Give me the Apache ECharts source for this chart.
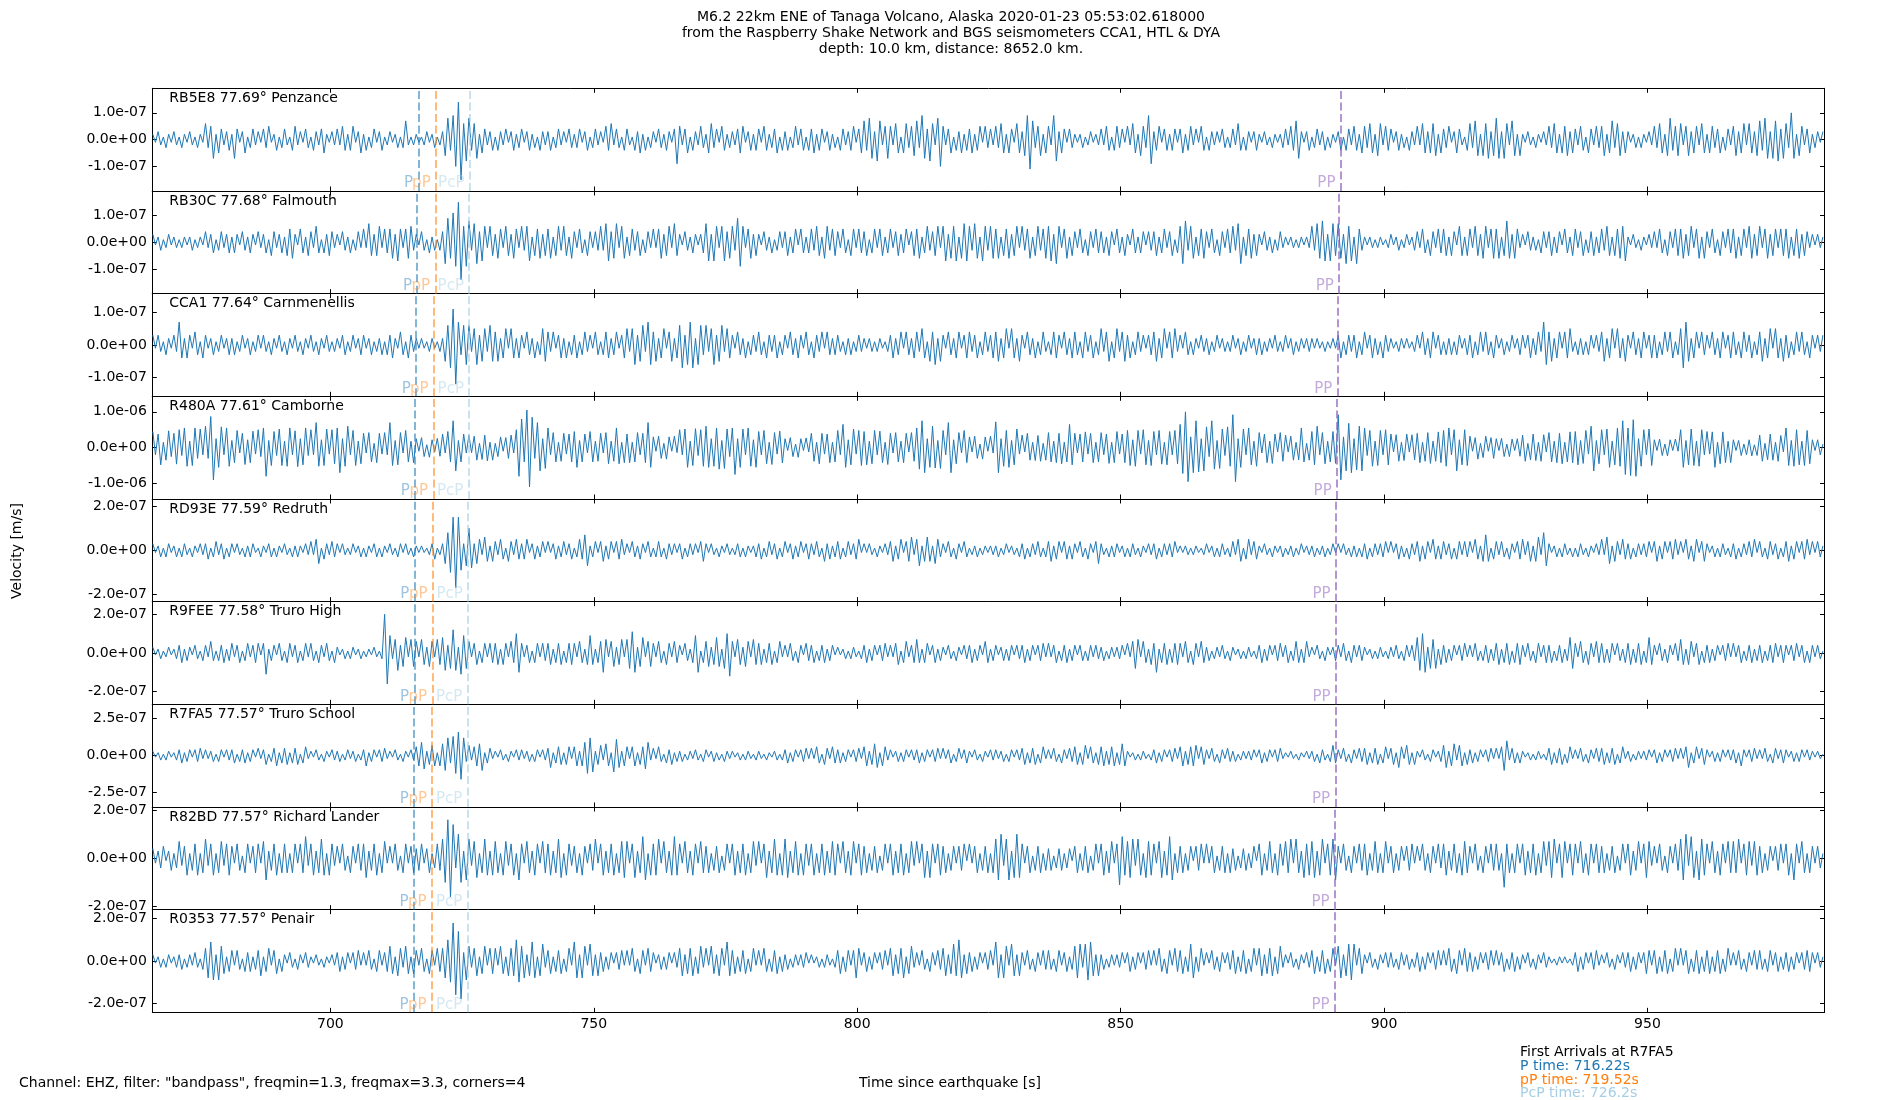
<!DOCTYPE html>
<html><head><meta charset="utf-8">
<script src="https://cdn.jsdelivr.net/npm/echarts@6/dist/echarts.min.js"></script>
<style>html,body{margin:0;padding:0;background:#fff}#c{width:1900px;height:1100px}</style>
</head><body><div id="c"></div><script>
// ---------------- data ----------------
const titleLines = [
  'M6.2 22km ENE of Tanaga Volcano, Alaska 2020-01-23 05:53:02.618000',
  'from the Raspberry Shake Network and BGS seismometers CCA1, HTL & DYA',
  'depth: 10.0 km, distance: 8652.0 km.'
];
const footerText = 'Channel: EHZ, filter: "bandpass", freqmin=1.3, freqmax=3.3, corners=4';
const xAxisTitle = 'Time since earthquake [s]';
const yAxisTitle = 'Velocity [m/s]';
const stations = ['RB5E8','RB30C','CCA1','R480A','RD93E','R9FEE','R7FA5','R82BD','R0353'];
const distances = [77.69,77.68,77.64,77.61,77.59,77.58,77.57,77.57,77.57];
const places = ['Penzance','Falmouth','Carnmenellis','Camborne','Redruth','Truro High','Truro School','Richard Lander','Penair'];
const yLimits = [1.917e-7,1.924e-7,1.571e-7,1.434e-6,2.325e-7,2.656e-7,3.47e-7,2.13e-7,2.43e-7];
const yTickValues = [
  [-1e-7,0,1e-7],[-1e-7,0,1e-7],[-1e-7,0,1e-7],[-1e-6,0,1e-6],[-2e-7,0,2e-7],
  [-2e-7,0,2e-7],[-2.5e-7,0,2.5e-7],[-2e-7,0,2e-7],[-2e-7,0,2e-7]
];
const xMin = 666.2, xMax = 983.6;
const xTickValues = [700,750,800,850,900,950];
const phaseNames = ['P','pP','PcP','PP'];
const pArrivals   = [716.68,716.48,716.28,716.07,715.97,715.95,715.87,715.85,715.85];
const pPArrivals  = [720.04,719.94,719.63,719.53,719.43,719.36,719.33,719.25,719.25];
const pcpArrivals = [726.45,726.35,726.35,726.25,726.14,726.06,726.04,726.04,726.04];
const ppArrivals  = [891.77,891.46,891.16,891.06,890.85,890.85,890.75,890.65,890.65];
const firstArrivalStation = 'R7FA5';
const firstArrivalNames = ['P','pP','PcP'];
const firstArrivalTimes = [716.22,719.52,726.2];
// samples: start time, step (s); amplitudes in units of 1e-8 m/s
const sampleStart = 666.3, sampleStep = 0.5, sampleUnit = 1e-8;

const wRB5E8 = [
2,-1,3,-2,1,-3,2,-1,3,-2, 1,-3,2,-1,3,-2,1,-3,2,-1,
6,-3,5,-7,2,-5,4,-2,3,-4, 2,-7,4,-1,3,-5,1,-3,4,-2,
3,-1,4,-3,5,-1,2,-4,1,-3, 4,-2,1,-4,5,-2,3,-1,4,-3,
1,-4,3,-2,4,-5,2,-1,3,-2, 4,-2,5,-4,2,-4,5,-1,3,-5,
2,-4,1,-3,4,-1,3,-4,1,-2, 3,-1,2,-3,1,-3,7,-2,1,-2,
2,-1,1,-2,3,-1,2,-3,1,-2, 3,-6,8,-4,9,-10,14,-15,6,-8,
8,-4,6,-7,2,-5,4,-2,3,-4, 1,-4,3,-2,4,-1,3,-4,2,-3,
4,-1,3,-4,2,-3,1,-4,3,-2, 3,-4,1,-3,4,-2,3,-1,4,-3,
2,-3,4,-1,3,-4,1,-3,4,-2, 3,-1,5,-4,6,-2,4,-3,1,-4,
4,-2,1,-4,3,-5,2,-4,1,-3, 3,-1,4,-3,2,-4,3,-1,4,-9,
5,-2,4,-5,1,-4,3,-2,5,-3, 2,-5,6,-3,4,-1,5,-4,2,-3,
3,-2,4,-5,5,-1,3,-4,2,-4, 4,-1,5,-4,2,-3,4,-5,1,-4,
3,-4,1,-3,5,-2,4,-4,1,-4, 4,-5,2,-4,4,-1,3,-4,2,-3,
1,-4,4,-2,3,-4,5,-1,4,-5, 7,-4,8,-7,3,-8,7,-2,5,-7,
5,-2,6,-5,1,-5,6,-3,5,-6, 7,-3,9,-7,4,-8,6,-2,8,-10,
5,-2,4,-5,1,-4,3,-5,2,-4, 4,-5,2,-4,5,-1,5,-3,4,-2,
5,-3,6,-5,2,-5,4,-1,6,-5, 3,-6,9,-11,7,-3,5,-6,2,-5,
5,-2,9,-8,3,-5,4,-1,4,-3, 2,-1,2,-3,1,-2,3,-1,2,-2,
4,-2,5,-4,1,-4,5,-3,4,-1, 5,-2,6,-5,2,-6,5,-3,9,-9,
3,-4,5,-1,4,-4,2,-4,4,-1, 4,-5,2,-4,5,-2,4,-1,5,-4,
1,-4,3,-2,3,-1,4,-3,1,-3, 4,-2,6,-4,1,-4,3,-1,3,-4,
2,-1,3,-2,1,-3,2,-1,2,-3, 4,-2,5,-4,7,-7,3,-1,3,-4,
1,-3,4,-2,3,-4,1,-3,2,-1, 3,-4,1,-4,4,-2,5,-4,2,-5,
5,-3,6,-5,2,-6,6,-2,5,-4, 4,-1,3,-4,2,-3,1,-4,3,-2,
5,-2,6,-5,3,-5,6,-6,2,-5, 4,-3,5,-1,3,-5,4,-2,1,-4,
6,-3,7,-6,2,-6,6,-7,3,-6, 8,-7,3,-7,6,-2,7,-6,2,-6,
2,-1,3,-2,1,-3,2,-1,3,-2, 5,-3,6,-5,2,-5,5,-6,3,-5,
4,-2,5,-4,1,-5,4,-2,5,-3, 5,-6,2,-5,7,-3,6,-6,3,-5,
3,-1,2,-3,1,-3,2,-1,3,-2, 5,-3,6,-5,2,-6,8,-4,5,-6,
6,-2,5,-6,3,-5,5,-2,6,-5, 2,-5,5,-3,4,-5,1,-4,4,-2,
5,-6,3,-5,6,-2,6,-5,3,-6, 7,-4,8,-7,3,-7,7,-8,4,-7,
6,-3,10,-7,2,-6,5,-2,4,-5, 2,-3,3,-1,3
];
const wRB30C = [
3,-1,2,-3,1,-2,3,-1,2,-2, 1,-2,2,-1,2,-3,1,-2,2,-1,
4,-2,3,-4,1,-3,4,-2,3,-4, 2,-4,3,-1,4,-3,2,-4,3,-1,
4,-2,3,-4,1,-5,4,-2,3,-4, 2,-5,5,-6,3,-1,5,-4,2,-5,
4,-2,6,-4,1,-4,3,-5,4,-2, 3,-1,4,-3,2,-4,1,-3,4,-2,
5,-2,7,-5,3,-5,6,-2,5,-4, 5,-6,3,-7,5,-2,5,-6,6,-3,
3,-1,4,-3,1,-4,2,-3,1,-3, 4,-8,9,-6,11,-9,15,-14,6,-9,
8,-3,7,-8,4,-7,6,-2,6,-5, 3,-6,5,-2,6,-5,3,-6,5,-2,
6,-3,6,-7,2,-5,5,-6,3,-5, 5,-6,2,-5,6,-3,6,-5,2,-6,
4,-2,5,-4,1,-5,4,-2,4,-3, 6,-3,7,-7,4,-6,7,-2,6,-6,
2,-5,5,-3,4,-5,1,-4,4,-2, 5,-2,5,-6,3,-5,6,-2,7,-5,
3,-1,4,-3,2,-4,3,-1,3,-4, 7,-7,3,-7,6,-2,6,-7,4,-6,
6,-3,9,-9,6,-2,5,-6,3,-5, 3,-1,4,-3,2,-4,1,-3,4,-2,
4,-5,2,-4,5,-1,5,-4,2,-4, 5,-3,6,-5,2,-6,6,-3,5,-5,
4,-2,5,-4,1,-5,5,-2,5,-4, 4,-5,1,-4,5,-2,5,-5,2,-4,
5,-2,4,-5,3,-4,5,-1,4,-5, 5,-6,2,-4,6,-3,4,-5,6,-2,
6,-7,3,-6,6,-7,2,-6,7,-7, 6,-3,7,-6,2,-7,6,-3,6,-6,
5,-6,2,-5,5,-6,3,-5,6,-2, 6,-3,5,-6,2,-5,6,-3,5,-6,
6,-7,3,-8,6,-2,5,-6,2,-5, 4,-2,5,-4,1,-5,4,-2,5,-4,
4,-4,2,-5,4,-1,5,-4,2,-5, 3,-1,5,-4,2,-4,4,-1,4,-3,
4,-5,2,-4,5,-2,4,-5,1,-4, 6,-8,8,-3,6,-6,2,-5,5,-6,
4,-2,5,-4,1,-5,4,-2,5,-4, 6,-3,7,-8,2,-5,5,-6,3,-5,
3,-1,4,-3,2,-4,1,-3,4,-2, 2,-1,2,-2,1,-2,2,-1,2,-2,
6,-3,7,-6,8,-7,3,-7,7,-5, 7,-6,3,-8,6,-7,2,-8,5,-3,
2,-1,2,-2,1,-2,2,-1,1,-2, 3,-1,2,-3,1,-2,3,-1,2,-3,
4,-2,5,-4,1,-5,4,-2,5,-4, 5,-5,2,-5,4,-1,6,-5,2,-5,
5,-2,6,-5,3,-6,6,-2,5,-6, 5,-6,2,-5,8,-6,3,-6,5,-2,
3,-1,4,-3,2,-3,1,-4,4,-2, 4,-5,2,-4,4,-1,5,-4,2,-5,
5,-2,4,-5,1,-4,4,-5,2,-4, 5,-3,6,-5,2,-5,5,-6,6,-7,
2,-1,3,-2,1,-3,2,-1,3,-2, 4,-2,5,-4,1,-5,4,-2,5,-5,
5,-6,3,-5,6,-2,5,-6,2,-6, 4,-2,5,-4,1,-5,4,-2,5,-4,
5,-6,2,-5,5,-2,6,-6,3,-5, 6,-2,5,-6,3,-5,5,-2,5,-5,
5,-6,2,-5,5,-6,3,-5,4,-2, 3,-1,3,-2,2
];
const wCCA1 = [
3,-1,3,-2,1,-3,2,-1,3,-2, 7,-4,2,-4,3,-1,4,-3,1,-4,
3,-1,2,-3,1,-2,3,-1,2,-3, 2,-3,1,-2,3,-1,2,-3,1,-2,
3,-1,3,-2,1,-3,2,-1,3,-2, 1,-3,2,-1,3,-2,1,-3,2,-1,
3,-2,1,-3,2,-1,3,-2,1,-2, 2,-1,3,-3,1,-2,3,-1,2,-3,
3,-1,2,-3,1,-2,2,-3,1,-3, 3,-4,2,-1,4,-3,1,-4,3,-2,
2,-1,2,-1,1,-2,2,-1,1,-2, 2,-5,6,-7,11,-12,7,-3,6,-6,
6,-2,5,-6,3,-5,5,-2,6,-5, 4,-5,2,-4,5,-1,5,-4,2,-4,
3,-1,4,-3,2,-4,1,-3,5,-5, 4,-2,4,-1,3,-4,2,-4,1,-3,
3,-4,1,-3,4,-2,3,-1,4,-3, 1,-3,4,-4,2,-3,4,-1,3,-4,
5,-2,5,-6,3,-5,6,-2,7,-6, 4,-5,2,-4,5,-1,4,-5,2,-4,
6,-7,3,-6,7,-7,2,-6,6,-3, 6,-2,5,-6,3,-5,6,-2,5,-4,
3,-1,4,-3,2,-4,1,-3,3,-2, 4,-3,1,-4,3,-2,3,-4,1,-3,
3,-1,4,-3,2,-4,3,-1,4,-3, 1,-4,3,-2,4,-1,4,-3,2,-3,
3,-2,1,-3,2,-3,1,-2,3,-2, 2,-1,2,-2,1,-2,2,-1,1,-2,
3,-4,2,-3,4,-1,4,-3,2,-4, 4,-2,5,-4,1,-5,4,-6,2,-5,
3,-1,4,-3,2,-4,4,-1,3,-4, 4,-2,3,-4,1,-3,4,-2,3,-4,
4,-5,2,-4,5,-1,5,-4,2,-5, 3,-1,4,-3,2,-4,1,-3,4,-2,
1,-3,4,-4,3,-1,4,-3,2,-4, 4,-3,1,-4,4,-2,3,-4,1,-3,
5,-2,4,-5,1,-4,5,-2,4,-5, 3,-4,1,-3,4,-2,3,-1,3,-3,
4,-5,2,-4,5,-1,4,-4,5,-2, 3,-1,4,-3,1,-3,2,-1,3,-2,
2,-3,1,-2,3,-1,2,-2,1,-2, 3,-1,2,-3,1,-2,3,-1,2,-3,
2,-3,1,-2,2,-1,3,-2,1,-2, 3,-1,2,-3,1,-2,2,-1,2,-2,
2,-1,2,-1,1,-2,1,-1,2,-1, 3,-4,1,-3,3,-2,3,-4,1,-3,
4,-1,3,-4,2,-3,1,-4,3,-2, 2,-1,1,-2,2,-1,2,-1,1,-2,
3,-1,4,-3,2,-4,4,-1,3,-3, 1,-3,2,-3,1,-3,3,-1,2,-3,
3,-4,1,-3,4,-2,4,-3,1,-4, 3,-1,2,-3,1,-2,3,-1,2,-3,
3,-1,3,-4,2,-3,4,-2,7,-6, 4,-5,2,-4,4,-1,4,-4,5,-2,
1,-3,2,-3,1,-3,3,-1,3,-2, 4,-5,2,-4,5,-1,5,-4,2,-5,
3,-1,4,-3,2,-4,4,-1,3,-4, 3,-4,1,-3,4,-2,4,-4,1,-3,
5,-7,7,-5,2,-4,4,-1,4,-3, 3,-1,4,-3,2,-4,4,-1,3,-4,
4,-3,1,-4,4,-2,3,-4,1,-3, 4,-5,2,-4,5,-1,5,-4,2,-5,
3,-4,1,-3,4,-2,4,-3,1,-4, 3,-1,3,-2,3
];
const wR480A = [
45,-20,38,-48,15,-35,47,-25,40,-46, 50,-22,55,-52,18,-50,55,-30,52,-20,
60,-30,87,-90,25,-55,58,-20,55,-52, 20,-42,48,-15,40,-47,22,-42,46,-18,
50,-25,55,-80,20,-50,45,-22,52,-50, 18,-52,55,-20,47,-53,25,-48,55,-22,
50,-20,70,-52,22,-50,52,-18,50,-45, 55,-70,25,-52,60,-20,48,-50,18,-45,
40,-15,42,-40,12,-42,40,-18,42,-20, 70,-50,20,-48,42,-15,48,-40,18,-42,
25,-10,28,-25,8,-27,22,-12,26,-24, 38,-15,45,-40,75,-65,20,-40,38,-15,
35,-14,32,-35,12,-33,35,-37,15,-35, 12,-25,30,-10,28,-30,35,-15,50,-80,
80,-40,105,-110,85,-30,70,-65,25,-58, 55,-20,42,-40,15,-38,40,-18,38,-40,
45,-55,20,-40,38,-15,45,-40,18,-38, 40,-15,42,-45,18,-38,55,-45,15,-42,
38,-42,15,-40,42,-20,40,-42,70,-55, 30,-10,32,-30,12,-32,30,-10,32,-14,
50,-20,52,-55,18,-50,53,-22,50,-52, 60,-55,25,-52,55,-60,20,-58,52,-25,
55,-75,25,-55,52,-20,55,-52,22,-55, 45,-20,48,-45,15,-47,42,-18,46,-43,
25,-8,28,-25,10,-27,25,-8,27,-12, 40,-38,15,-45,40,-18,38,-42,15,-40,
48,-20,65,-55,22,-48,52,-18,48,-50, 45,-48,18,-45,48,-20,46,-42,15,-47,
40,-15,42,-40,18,-42,40,-12,42,-38, 55,-60,75,-70,25,-55,60,-57,20,-58,
48,-20,70,-70,22,-45,42,-15,48,-42, 30,-12,32,-30,10,-32,30,-10,32,-15,
72,-70,25,-52,48,-55,20,-48,52,-18, 35,-12,40,-35,15,-36,34,-38,12,-35,
42,-40,18,-42,40,-45,15,-40,65,-48, 40,-15,38,-40,44,-18,40,-42,15,-40,
42,-20,38,-44,15,-42,45,-18,38,-42, 48,-50,22,-52,48,-18,50,-48,20,-50,
45,-20,48,-46,15,-48,45,-20,48,-45, 65,-72,100,-95,30,-70,75,-68,25,-65,
58,-25,75,-60,20,-58,52,-22,58,-52, 92,-95,25,-55,52,-20,55,-48,18,-52,
42,-15,38,-42,18,-44,38,-12,42,-38, 35,-12,32,-35,15,-34,55,-40,12,-35,
45,-48,60,-20,42,-45,18,-40,45,-44, 92,-90,30,-65,68,-70,25,-62,60,-65,
55,-22,48,-52,18,-50,48,-20,50,-48, 38,-12,36,-38,15,-36,38,-12,36,-34,
40,-42,15,-38,42,-44,18,-38,44,-42, 48,-52,55,-20,50,-65,22,-48,50,-50,
32,-10,28,-32,12,-28,32,-10,28,-30, 25,-8,26,-25,10,-25,24,-8,25,-24,
35,-38,12,-34,38,-36,15,-38,36,-12, 42,-40,18,-42,40,-45,15,-40,44,-42,
45,-48,20,-44,48,-18,60,-65,20,-45, 50,-20,52,-55,18,-48,55,-52,75,-75,
55,-78,78,-80,25,-52,50,-20,52,-50, 22,-8,24,-22,10,-23,22,-8,24,-10,
50,-55,20,-48,52,-50,18,-52,50,-20, 45,-18,44,-55,15,-45,44,-42,18,-42,
22,-8,20,-22,10,-20,22,-23,8,-22, 35,-38,12,-34,38,-35,15,-38,34,-12,
55,-50,20,-52,50,-48,18,-50,48,-45, 22,-8,22,-20,10
];
const wRD93E = [
3,-1,2,-3,1,-3,3,-1,2,-3, 1,-3,3,-2,1,-3,2,-1,3,-2,
3,-4,1,-3,4,-2,3,-4,1,-3, 3,-1,3,-2,1,-3,2,-3,3,-1,
1,-3,2,-1,3,-3,1,-3,2,-1, 3,-2,1,-3,2,-3,2,-1,3,-2,
4,-2,5,-6,1,-4,3,-2,4,-3, 3,-1,3,-2,1,-2,3,-1,2,-3,
1,-3,2,-1,3,-3,1,-3,2,-1, 3,-2,1,-3,3,-1,3,-2,1,-3,
2,-1,2,-1,1,-2,3,-4,1,-2, 3,-6,8,-10,15,-17,15,-9,3,-7,
10,-8,3,-6,5,-2,6,-5,2,-5, 4,-2,5,-4,1,-5,4,-2,5,-4,
3,-4,5,-1,3,-4,2,-3,4,-1, 4,-1,3,-4,2,-3,4,-2,3,-4,
1,-3,5,-4,7,-7,2,-3,4,-1, 4,-5,2,-4,4,-1,4,-4,5,-2,
3,-1,4,-3,2,-4,3,-1,4,-3, 1,-3,4,-3,1,-4,3,-2,3,-1,
3,-4,1,-3,3,-2,3,-1,4,-5, 3,-1,3,-2,1,-3,2,-1,3,-2,
1,-2,3,-3,1,-3,2,-1,2,-3, 3,-4,1,-3,4,-2,3,-4,1,-3,
4,-1,3,-4,2,-3,4,-1,3,-4, 3,-2,4,-3,1,-5,3,-4,2,-3,
4,-4,1,-3,4,-2,3,-4,5,-1, 3,-1,3,-2,1,-3,2,-1,3,-2,
4,-5,2,-4,5,-1,4,-5,6,-2, 5,-7,2,-5,6,-5,2,-6,5,-3,
3,-1,4,-3,1,-4,3,-1,4,-3, 1,-2,2,-3,1,-2,2,-1,2,-2,
2,-3,1,-2,3,-1,2,-2,1,-3, 3,-4,1,-3,3,-2,4,-3,1,-3,
4,-5,2,-4,4,-1,4,-4,2,-4, 3,-1,4,-3,1,-4,3,-1,4,-6,
3,-2,1,-3,2,-3,3,-1,2,-3, 1,-3,3,-2,1,-3,2,-1,3,-2,
3,-4,1,-3,3,-2,3,-3,4,-1, 2,-1,2,-2,1,-2,2,-1,1,-2,
3,-1,2,-3,1,-3,3,-2,1,-3, 4,-2,5,-5,1,-4,5,-2,4,-4,
2,-1,3,-2,1,-3,2,-1,2,-3, 1,-2,2,-3,1,-2,3,-1,2,-2,
2,-3,1,-2,2,-3,1,-2,3,-1, 3,-1,3,-2,1,-3,2,-3,1,-3,
3,-4,1,-3,3,-2,3,-3,4,-1, 4,-1,3,-4,2,-3,1,-4,3,-2,
4,-5,2,-4,4,-1,5,-4,2,-4, 4,-2,3,-4,1,-4,4,-2,4,-3,
4,-1,5,-4,2,-5,7,-5,1,-4, 4,-2,4,-3,1,-4,3,-1,4,-4,
5,-2,4,-5,2,-5,6,-2,8,-7, 3,-1,2,-3,1,-3,3,-2,1,-3,
1,-3,3,-2,1,-3,2,-1,3,-2, 5,-2,6,-6,2,-5,4,-2,5,-4,
3,-4,1,-3,3,-2,3,-3,4,-1, 4,-5,2,-4,4,-1,4,-4,5,-2,
4,-1,5,-4,2,-5,5,-1,4,-5, 3,-1,2,-3,1,-3,3,-2,1,-3,
3,-4,1,-3,3,-2,4,-3,5,-1, 4,-3,1,-4,4,-2,3,-4,1,-3,
4,-5,2,-4,4,-1,4,-4,5,-2, 4,-1,4,-3,2
];
const wR9FEE = [
3,-1,2,-3,1,-2,3,-1,2,-3, 4,-5,2,-4,3,-1,4,-3,1,-4,
4,-2,6,-4,1,-4,4,-5,2,-4, 5,-2,4,-5,1,-4,5,-2,4,-5,
5,-1,5,-11,2,-4,4,-1,5,-4, 1,-5,5,-2,4,-5,1,-4,5,-2,
5,-4,1,-5,4,-2,5,-4,1,-5, 3,-1,2,-3,1,-3,3,-1,2,-3,
1,-2,2,-1,3,-2,1,-3,20,-16, 9,-3,7,-9,4,-7,8,-2,7,-7,
6,-2,7,-6,3,-7,6,-2,7,-6, 8,-9,4,-8,12,-9,3,-11,9,-8,
6,-2,5,-6,1,-5,5,-2,5,-5, 5,-6,2,-6,5,-2,6,-5,10,-10,
5,-2,4,-5,1,-5,5,-2,5,-4, 5,-6,2,-5,5,-6,1,-5,5,-6,
5,-2,6,-5,2,-6,9,-6,2,-5, 6,-10,7,-2,6,-7,3,-6,7,-2,
7,-8,11,-10,3,-7,8,-2,6,-7, 5,-2,6,-5,1,-6,5,-2,6,-5,
4,-1,5,-4,2,-5,9,-10,1,-5, 6,-7,3,-6,8,-7,2,-8,10,-12,
6,-2,7,-6,3,-7,6,-2,7,-6, 5,-6,2,-5,5,-6,1,-5,6,-2,
4,-2,5,-4,1,-5,4,-1,5,-4, 4,-5,1,-4,4,-5,2,-4,4,-1,
3,-1,2,-3,1,-3,3,-2,1,-3, 4,-5,2,-4,4,-1,4,-4,5,-2,
4,-2,5,-6,1,-5,6,-2,4,-5, 7,-5,2,-5,5,-1,4,-5,2,-4,
3,-1,4,-3,1,-4,3,-1,4,-3, 4,-5,2,-4,4,-1,6,-5,2,-4,
4,-1,3,-4,2,-4,4,-1,4,-3, 4,-5,2,-4,4,-1,4,-4,5,-2,
5,-2,4,-5,1,-4,4,-5,2,-4, 4,-1,4,-4,1,-4,4,-2,4,-3,
3,-4,1,-3,3,-2,3,-3,4,-1, 5,-2,6,-8,7,-2,6,-5,2,-6,
5,-10,2,-5,5,-6,2,-5,5,-6, 5,-2,6,-5,1,-6,5,-2,6,-5,
3,-4,1,-3,3,-2,4,-3,1,-4, 3,-1,2,-3,1,-3,3,-2,1,-3,
4,-5,2,-4,4,-1,4,-4,5,-2, 4,-5,1,-4,6,-5,2,-5,6,-2,
3,-1,4,-3,1,-4,3,-1,3,-4, 4,-2,5,-4,1,-5,4,-2,4,-4,
3,-1,2,-3,1,-3,3,-2,1,-3, 3,-2,4,-3,1,-4,4,-2,4,-4,
8,-9,10,-10,3,-8,7,-8,2,-6, 4,-5,2,-4,4,-1,4,-4,5,-2,
4,-2,5,-4,1,-4,4,-5,2,-4, 5,-6,2,-5,5,-6,1,-5,5,-6,
4,-2,5,-4,1,-5,5,-2,4,-5, 4,-5,1,-4,4,-5,2,-4,8,-8,
5,-2,6,-5,1,-6,5,-2,6,-5, 5,-5,2,-5,5,-1,5,-4,2,-5,
5,-6,2,-5,5,-6,1,-5,8,-6, 4,-1,5,-4,2,-5,4,-1,5,-4,
7,-6,2,-6,6,-2,5,-6,1,-5, 4,-5,2,-4,4,-1,4,-4,5,-2,
5,-2,4,-5,1,-4,4,-5,2,-4, 4,-5,1,-4,4,-5,5,-2,4,-5,
4,-1,4,-4,5,-2,4,-5,1,-5, 4,-2,4,-3,1
];
const wR7FA5 = [
3,-1,2,-3,1,-3,3,-1,2,-3, 4,-5,2,-4,4,-1,4,-4,5,-2,
4,-2,3,-4,1,-4,4,-1,4,-3, 4,-5,1,-4,4,-5,2,-4,4,-1,
5,-2,4,-6,1,-4,5,-7,2,-5, 5,-6,2,-5,5,-6,1,-5,6,-2,
3,-1,4,-3,1,-4,3,-1,4,-3, 3,-4,1,-3,4,-2,3,-4,1,-3,
4,-7,2,-4,4,-1,4,-4,5,-2, 3,-1,4,-3,1,-4,3,-1,4,-3,
6,-7,9,-9,3,-6,7,-7,2,-7, 8,-10,12,-5,13,-12,16,-16,12,-4,
7,-3,6,-7,8,-10,2,-5,5,-2, 3,-1,4,-3,1,-4,3,-1,4,-3,
4,-2,3,-4,1,-4,4,-1,4,-3, 5,-8,2,-5,6,-6,2,-6,6,-2,
6,-7,3,-7,9,-12,12,-11,3,-6, 7,-3,8,-7,2,-11,11,-8,3,-7,
6,-2,6,-7,2,-6,6,-9,9,-3, 5,-2,6,-4,1,-5,4,-6,2,-4,
3,-4,1,-3,3,-2,4,-3,1,-4, 4,-1,3,-4,2,-3,1,-4,3,-2,
3,-1,2,-3,1,-3,3,-2,1,-3, 3,-2,1,-3,2,-1,3,-3,1,-3,
4,-5,2,-4,4,-1,4,-4,5,-2, 5,-2,6,-5,1,-6,5,-2,6,-5,
4,-5,2,-4,4,-1,4,-4,5,-2, 6,-7,3,-6,8,-8,2,-7,6,-3,
4,-1,3,-4,2,-4,4,-1,4,-3, 4,-5,2,-4,4,-1,4,-4,5,-2,
5,-2,4,-5,1,-4,5,-2,4,-5, 3,-1,4,-3,1,-4,3,-1,4,-3,
4,-2,3,-4,1,-4,4,-1,4,-3, 5,-6,2,-5,5,-6,1,-5,6,-2,
4,-2,5,-4,1,-5,4,-2,5,-4, 6,-6,2,-6,7,-2,6,-5,2,-6,
6,-7,3,-6,6,-7,2,-6,8,-7, 3,-1,2,-3,1,-3,3,-2,1,-3,
4,-5,2,-4,4,-1,4,-4,5,-2, 6,-7,3,-6,6,-7,7,-2,6,-6,
4,-2,5,-4,1,-5,4,-2,5,-4, 3,-4,1,-3,3,-2,3,-3,4,-1,
4,-5,2,-4,4,-1,4,-4,5,-2, 2,-1,3,-2,1,-3,2,-1,3,-2,
3,-4,1,-5,4,-3,1,-4,7,-5, 4,-2,5,-4,1,-5,4,-2,5,-4,
5,-6,2,-5,5,-6,1,-5,6,-2, 5,-6,2,-8,6,-2,7,-6,2,-6,
3,-1,4,-3,1,-4,4,-1,3,-4, 7,-8,3,-7,8,-3,7,-7,2,-6,
4,-5,2,-4,4,-1,4,-4,5,-2, 5,-2,6,-10,10,-3,5,-5,2,-5,
3,-1,2,-3,1,-3,3,-2,1,-3, 5,-6,2,-5,5,-6,1,-5,6,-2,
4,-2,5,-4,1,-5,4,-2,5,-4, 5,-6,2,-5,5,-6,1,-5,6,-2,
3,-4,1,-3,3,-2,3,-3,4,-1, 4,-5,2,-4,4,-1,4,-4,5,-2,
5,-2,6,-8,2,-5,6,-2,5,-6, 4,-1,3,-4,2,-4,4,-1,4,-3,
4,-5,2,-7,4,-1,4,-4,5,-2, 4,-2,5,-4,1,-5,5,-2,4,-5,
4,-1,3,-4,2,-4,4,-1,4,-3, 3,-1,3,-2,1
];
const wR82BD = [
4,-2,3,-4,5,-1,3,-5,2,-4, 7,-3,5,-7,2,-5,6,-7,2,-6,
8,-3,6,-7,2,-6,7,-3,6,-7, 5,-2,6,-5,1,-6,6,-2,5,-6,
6,-2,7,-9,3,-5,6,-7,2,-6, 6,-6,2,-6,6,-2,6,-6,9,-3,
6,-7,3,-6,8,-7,2,-7,6,-3, 5,-2,6,-5,1,-6,5,-2,6,-5,
6,-8,3,-5,6,-7,2,-6,7,-2, 5,-2,6,-5,1,-6,6,-2,5,-6,
4,-5,6,-2,4,-6,2,-4,6,-5, 8,-10,16,-16,14,-4,10,-10,3,-9,
8,-3,7,-8,2,-6,8,-7,3,-7, 7,-6,2,-7,7,-3,6,-7,2,-9,
6,-2,7,-6,3,-7,6,-2,7,-6, 6,-7,3,-6,8,-8,2,-7,6,-3,
5,-6,2,-7,5,-2,6,-5,8,-2, 6,-7,3,-6,6,-7,2,-6,7,-8,
7,-2,6,-8,3,-6,9,-9,2,-7, 6,-7,8,-2,7,-6,3,-7,9,-7,
6,-2,7,-6,3,-7,6,-2,7,-6, 5,-6,2,-5,5,-6,1,-5,6,-2,
6,-7,3,-6,6,-7,2,-6,7,-3, 7,-2,6,-8,3,-6,8,-7,2,-7,
8,-8,3,-6,7,-7,2,-7,6,-3, 6,-7,2,-6,6,-7,3,-6,7,-7,
6,-2,7,-6,3,-7,7,-2,6,-7, 5,-6,2,-5,5,-6,1,-5,6,-2,
6,-7,3,-6,6,-7,2,-6,7,-3, 7,-2,6,-8,3,-8,6,-2,6,-7,
5,-6,2,-5,5,-2,5,-5,6,-1, 6,-2,5,-6,2,-5,5,-6,2,-6,
8,-9,10,-3,8,-9,3,-8,10,-8, 6,-2,5,-6,1,-5,5,-6,2,-5,
4,-5,1,-4,4,-5,2,-4,4,-1, 5,-6,2,-5,5,-6,1,-5,6,-2,
6,-7,3,-6,7,-2,6,-11,9,-7, 7,-8,8,-3,8,-7,2,-8,7,-7,
6,-2,7,-8,3,-7,9,-9,2,-6, 5,-6,2,-5,5,-1,5,-5,6,-2,
6,-2,5,-6,1,-5,5,-6,2,-6, 4,-5,1,-4,4,-5,2,-4,5,-1,
6,-7,2,-5,7,-6,2,-7,6,-3, 7,-6,8,-2,8,-6,3,-8,6,-7,
7,-8,3,-7,8,-2,6,-7,8,-9, 5,-2,6,-5,1,-6,5,-2,6,-5,
6,-7,2,-5,7,-6,2,-6,7,-2, 5,-6,2,-5,5,-1,5,-5,6,-2,
5,-1,6,-5,2,-6,5,-2,6,-4, 6,-7,3,-5,6,-6,2,-7,7,-6,
5,-2,6,-5,1,-6,5,-2,6,-5, 6,-5,2,-12,6,-6,2,-6,6,-2,
6,-7,3,-6,6,-7,2,-6,7,-3, 7,-8,8,-2,6,-8,7,-2,6,-7,
6,-2,7,-6,2,-7,6,-2,6,-6, 5,-6,2,-5,5,-6,1,-5,6,-2,
6,-7,3,-5,7,-2,6,-8,7,-3, 5,-2,6,-5,1,-6,5,-2,6,-5,
8,-9,10,-3,9,-8,3,-9,8,-7, 6,-2,7,-6,3,-7,6,-2,7,-6,
7,-6,8,-2,6,-7,7,-3,7,-7, 5,-6,2,-5,5,-1,5,-5,6,-2,
6,-7,2,-9,6,-2,7,-6,2,-6, 5,-2,5,-4,2
];
const wR0353 = [
3,-1,2,-3,1,-3,3,-1,2,-3, 3,-4,1,-3,3,-2,4,-3,1,-4,
6,-8,9,-9,3,-9,7,-6,2,-5, 5,-2,5,-4,1,-5,4,-5,2,-4,
5,-7,2,-5,6,-2,5,-6,1,-5, 3,-1,4,-3,1,-4,3,-1,4,-3,
2,-1,3,-2,1,-3,2,-1,3,-2, 4,-5,2,-4,4,-1,4,-4,5,-2,
4,-2,5,-4,1,-5,5,-2,4,-5, 7,-6,2,-7,6,-3,7,-6,2,-6,
5,-2,6,-5,1,-6,5,-2,6,-5, 6,-8,10,-10,18,-16,14,-18,4,-9,
7,-3,6,-7,2,-6,7,-2,6,-6, 6,-2,7,-6,2,-7,6,-7,10,-10,
7,-8,3,-7,9,-8,2,-7,8,-3, 5,-6,2,-5,5,-6,1,-5,6,-2,
9,-8,3,-8,7,-2,8,-7,3,-7, 4,-5,2,-4,4,-1,4,-4,5,-2,
5,-2,6,-5,1,-6,5,-2,6,-5, 4,-1,3,-4,2,-4,4,-1,4,-3,
6,-7,3,-6,6,-7,2,-6,7,-3, 6,-2,7,-6,3,-7,6,-2,9,-7,
5,-6,2,-5,5,-6,1,-5,6,-2, 5,-2,6,-5,1,-5,5,-6,2,-5,
3,-4,1,-3,3,-2,3,-3,4,-1, 3,-1,2,-3,1,-3,3,-2,1,-3,
5,-6,2,-5,5,-2,5,-8,6,-2, 4,-5,2,-4,4,-1,4,-4,5,-2,
6,-7,3,-6,6,-8,2,-6,7,-3, 4,-2,5,-4,1,-5,4,-2,5,-4,
6,-7,3,-6,8,-7,10,-8,3,-6, 4,-5,2,-4,4,-1,4,-4,5,-2,
9,-8,3,-8,7,-2,8,-7,3,-7, 4,-2,5,-4,1,-5,4,-2,5,-4,
5,-4,1,-5,5,-2,4,-5,2,-4, 7,-8,8,-3,8,-9,9,-7,3,-7,
3,-4,1,-3,3,-2,3,-3,4,-1, 4,-5,2,-4,4,-1,4,-4,5,-2,
5,-2,6,-5,1,-6,5,-2,6,-5, 5,-6,2,-5,8,-8,2,-5,6,-2,
4,-1,5,-4,2,-5,4,-1,4,-4, 5,-6,2,-5,5,-6,1,-5,6,-2,
6,-7,3,-6,6,-7,2,-6,7,-3, 3,-1,4,-3,1,-4,3,-1,4,-3,
5,-6,2,-5,5,-6,1,-5,6,-2, 7,-8,3,-7,8,-9,8,-2,6,-6,
3,-1,4,-3,1,-4,3,-1,4,-3, 4,-3,1,-4,4,-2,3,-4,1,-3,
4,-5,2,-4,4,-1,4,-4,5,-2, 5,-2,6,-5,1,-6,5,-2,6,-5,
4,-5,2,-4,4,-1,4,-4,5,-2, 5,-2,4,-5,1,-4,4,-5,2,-4,
3,-1,4,-3,1,-4,3,-1,4,-3, 2,-1,1,-2,2,-1,2,-1,1,-2,
4,-5,2,-4,4,-1,4,-4,5,-2, 3,-1,4,-3,1,-4,3,-1,4,-3,
4,-5,2,-4,4,-1,4,-6,5,-2, 5,-6,2,-5,5,-6,1,-5,6,-2,
6,-2,5,-6,1,-5,5,-6,2,-5, 5,-6,2,-5,5,-6,1,-5,6,-2,
4,-2,5,-4,1,-5,4,-2,5,-4, 5,-4,1,-5,5,-2,4,-5,2,-4,
4,-5,2,-4,4,-1,4,-4,5,-5, 4,-1,4,-3,2
];
const traces = [wRB5E8,wRB30C,wCCA1,wR480A,wRD93E,wR9FEE,wR7FA5,wR82BD,wR0353];
const phaseArrivals = [pArrivals,pPArrivals,pcpArrivals,ppArrivals];

// ---------------- styling / layout ----------------
const FONT = 'DejaVu Sans';
const traceColor = '#1f77b4';
const phaseColors = ['rgba(31,119,180,0.55)','rgba(255,127,14,0.55)','rgba(166,206,227,0.6)','rgba(148,103,189,0.7)'];
const legendColors = ['#1f77b4','#ff7f0e','#a6cee3'];
const gridLeft = 152.3, gridRight = 75.5, gridTop0 = 88.3, panelH = 102.67;

function fmtExp(v){
  if (Math.abs(v) < 1e-20) return '0.0e+00';
  const s = v.toExponential(1); const parts = s.split('e');
  const n = parseInt(parts[1],10);
  return parts[0] + 'e' + (n<0?'-':'+') + String(Math.abs(n)).padStart(2,'0');
}

const grids=[], xAxes=[], yAxes=[], series=[], graphics=[];
const axisLineStyle = {color:'#000', width:1};
for (let i=0;i<stations.length;i++){
  const top = gridTop0 + i*panelH;
  grids.push({left:gridLeft, right:gridRight, top:top, height:panelH, containLabel:false});
  const xBase = {gridIndex:i, type:'value', min:xMin, max:xMax,
    axisLine:{show:true, onZero:false, lineStyle:axisLineStyle},
    axisTick:{show:true, inside:true, length:4.5, customValues:xTickValues, lineStyle:{color:'#000', width:1}},
    splitLine:{show:false}};
  xAxes.push(Object.assign({}, xBase, {position:'bottom',
    axisLabel:{show:i===stations.length-1, customValues:xTickValues, fontSize:14, fontFamily:FONT, color:'#000', margin:5}}));
  xAxes.push(Object.assign({}, xBase, {position:'top', axisLabel:{show:false}}));
  const yBase = {gridIndex:i, type:'value', min:-yLimits[i], max:yLimits[i],
    axisLine:{show:true, onZero:false, lineStyle:axisLineStyle},
    axisTick:{show:true, inside:true, length:4.5, customValues:yTickValues[i], lineStyle:{color:'#000', width:1}},
    splitLine:{show:false}};
  yAxes.push(Object.assign({}, yBase, {position:'left',
    axisLabel:{show:true, customValues:yTickValues[i], formatter:fmtExp, fontSize:14, fontFamily:FONT, color:'#000', margin:5.5}}));
  yAxes.push(Object.assign({}, yBase, {position:'right', axisLabel:{show:false}}));

  const data = traces[i].map((v,k)=>[sampleStart + k*sampleStep, v*sampleUnit]);
  series.push({type:'line', xAxisIndex:2*i, yAxisIndex:2*i, data:data, symbol:'none', showSymbol:false,
    lineStyle:{width:1, color:traceColor}, itemStyle:{color:traceColor}, clip:true, z:2, silent:true,
    markLine:{silent:true, symbol:['none','none'], label:{show:false}, z:3,
      data: phaseArrivals.map((arr,k)=>({xAxis:arr[i], lineStyle:{color:phaseColors[k], type:[8,3.5], width:2}}))}
  });
  series.push({type:'scatter', xAxisIndex:2*i, yAxisIndex:2*i, symbolSize:0, silent:true, clip:false, z:4,
    data: phaseArrivals.map((arr,k)=>({value:[arr[i]-1, -yLimits[i]],
      label:{show:true, formatter:phaseNames[k], color:phaseColors[k], position:[0,0], align:'right',
        verticalAlign:'bottom', fontSize:15, fontFamily:FONT}}))
  });
  graphics.push({type:'text', x:gridLeft+17, y:top+10, silent:true,
    style:{text: stations[i]+' '+distances[i].toFixed(2)+'\u00b0 '+places[i], fill:'#000',
      fontSize:14, fontFamily:FONT, textAlign:'left', textVerticalAlign:'middle'}});
}
const titleY = [17.5, 33.5, 49.5];
titleLines.forEach((t,k)=>graphics.push({type:'text', x:951, y:titleY[k], silent:true,
  style:{text:t, fill:'#000', fontSize:14, fontFamily:FONT, textAlign:'center', textVerticalAlign:'middle'}}));
graphics.push({type:'text', x:17, y:551, rotation:Math.PI/2, silent:true,
  style:{text:yAxisTitle, fill:'#000', fontSize:14, fontFamily:FONT, textAlign:'center', textVerticalAlign:'middle'}});
graphics.push({type:'text', x:19, y:1083.5, silent:true,
  style:{text:footerText, fill:'#000', fontSize:14, fontFamily:FONT, textAlign:'left', textVerticalAlign:'middle'}});
graphics.push({type:'text', x:950, y:1083.5, silent:true,
  style:{text:xAxisTitle, fill:'#000', fontSize:14, fontFamily:FONT, textAlign:'center', textVerticalAlign:'middle'}});
const legendY = [1052.7, 1066.5, 1080.1, 1093.7];
graphics.push({type:'text', x:1520, y:legendY[0], silent:true,
  style:{text:'First Arrivals at '+firstArrivalStation, fill:'#000', fontSize:14, fontFamily:FONT, textAlign:'left', textVerticalAlign:'middle'}});
firstArrivalNames.forEach((n,k)=>graphics.push({type:'text', x:1520, y:legendY[k+1], silent:true,
  style:{text:n+' time: '+firstArrivalTimes[k]+'s', fill:legendColors[k], fontSize:14, fontFamily:FONT, textAlign:'left', textVerticalAlign:'middle'}}));

const chart = echarts.init(document.getElementById('c'));
chart.setOption({
  animation:false, backgroundColor:'#fff',
  grid:grids, xAxis:xAxes, yAxis:yAxes, series:series, graphic:graphics
});
</script></body></html>
